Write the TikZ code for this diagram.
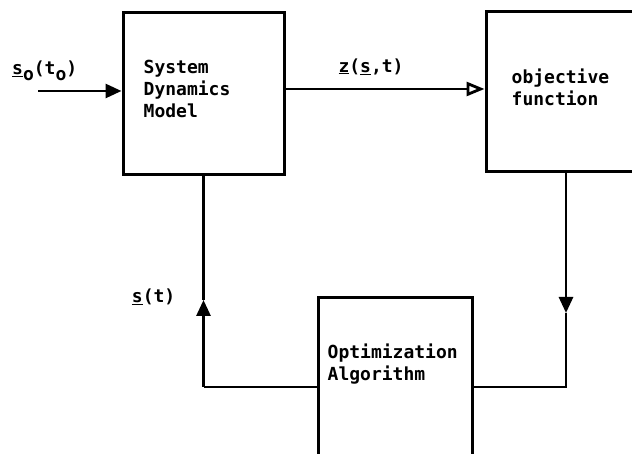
\documentclass[tikz,border=0pt]{standalone}
\usepackage{fontspec}
\usepackage{tikz}
\usetikzlibrary{arrows.meta}
\newfontfamily\typefont{DejaVu Sans Mono}
\newcommand{\und}[1]{\underline{#1}}
\newcommand{\low}[1]{\raisebox{-6pt}{#1}}

\begin{document}
\begin{tikzpicture}[x=1pt,y=1pt,
    blk/.style={draw,line width=3pt,inner sep=0pt},
    txt/.style={font={\typefont\bfseries\fontsize{18pt}{22pt}\selectfont},align=left,inner sep=0pt},
    wire/.style={line width=2.8pt},
    tip/.style={-{Triangle[length=16pt,width=14pt]}}]
  \useasboundingbox (0,0) rectangle (632,454);
  % the three blocks
  \node[blk,minimum width=161pt,minimum height=162pt] (M) at (203.5,360) {};
  \node[blk,minimum width=160pt,minimum height=160pt] (F) at (566,362) {};
  \node[blk,minimum width=154pt,minimum height=162pt] (O) at (395,75) {};
  \node[txt,anchor=north west] (Mt) at ([shift={(22pt,-48pt)}]M.north west) {System\\Dynamics\\Model};
  \node[txt,anchor=north west] (Ft) at ([shift={(27pt,-58pt)}]F.north west) {objective\\function};
  \node[txt,anchor=north west] (Ot) at ([shift={(11pt,-47pt)}]O.north west) {Optimization\\Algorithm};
  % helper points
  \coordinate (in) at (38,363);
  \coordinate (zl) at (0,365);
  \coordinate (dn) at (0,141);
  \coordinate (up) at (0,154);
  \coordinate (bot) at (0,67);
  % connectors
  \draw[wire,tip] (in) -- (in -| M.west);
  \node[txt,anchor=south west] (s0) at ([shift={(-26pt,10pt)}]in) {\und{s}\low{o}(t\low{o})};
  \draw[wire,-{Triangle[open,length=18pt,width=14pt]}] (zl -| M.east) -- node[txt,anchor=south,pos=0.43,yshift=13pt] (z) {\und{z}(\und{s},t)} (zl -| F.west);
  \draw[wire,tip] (F.south) -- (F.south |- dn);
  \draw[wire] (F.south |- dn) -- (F.south |- bot) -- (O.east |- bot);
  \draw[wire] (O.west |- bot) -- (M.south |- bot);
  \draw[wire,tip] (M.south |- bot) -- (M.south |- up);
  \draw[wire] (M.south |- up) -- (M.south);
  \node[txt,anchor=east] (st) at ([xshift=-28pt,yshift=3pt]M.south |- up) {\und{s}(t)};
\end{tikzpicture}
\end{document}
